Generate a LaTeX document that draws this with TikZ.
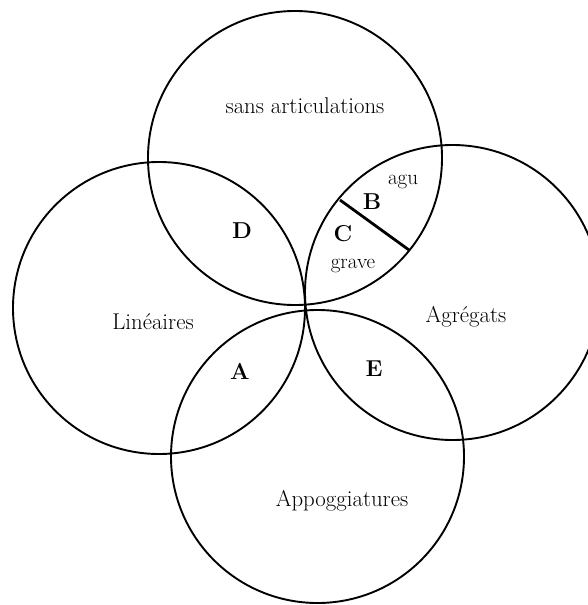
\documentclass[tikz,border=0pt]{standalone}
\usepackage{fontspec}
\begin{document}
\begin{tikzpicture}[x=1pt,y=-1pt,
  ring/.style={draw=black,line width=1.9pt},
  lbl/.style={font=\fontsize{22.8}{26}\selectfont,inner sep=0pt},
  region/.style={font=\fontsize{23}{26}\selectfont\bfseries,inner sep=0pt},
  small/.style={font=\fontsize{21}{24}\selectfont,inner sep=0pt}]
\useasboundingbox (0,0) rectangle (588,605);
\clip (0,0) rectangle (588,605);
\fill[white] (0,0) rectangle (588,605);
% circle centres
\coordinate (ctop) at (295,158);
\coordinate (cleft) at (159,308);
\coordinate (cright) at (452.5,292.5);
\coordinate (cbot) at (317.5,456.5);
\draw[ring] (ctop) circle[radius=147pt];
\draw[ring] (cleft) circle[radius=146pt];
\draw[ring] (cright) circle[radius=147.5pt];
\draw[ring] (cbot) circle[radius=146.5pt];
% divider between B and C
\coordinate (bc1) at (340,200);
\coordinate (bc2) at (409,250);
\draw[line width=2.8pt] (bc1) -- (bc2);
% labels
\node[lbl] (sa) at (305,106) {sans articulations};
\node[lbl] (lin) at (153,322) {Linéaires};
\node[lbl] (agr) at (466,317) {Agrégats};
\node[lbl] (app) at (342,501) {Appoggiatures};
\node[region] (D) at (242,231) {D};
\node[region] (A) at (240,371) {A};
\node[region] (E) at (374,369) {E};
\node[region] (B) at (372,202) {B};
\node[region] (C) at (343,234) {C};
\node[small] (agu) at (403,182) {agu};
\node[small] (grave) at (353,266) {grave};
\end{tikzpicture}
\end{document}
